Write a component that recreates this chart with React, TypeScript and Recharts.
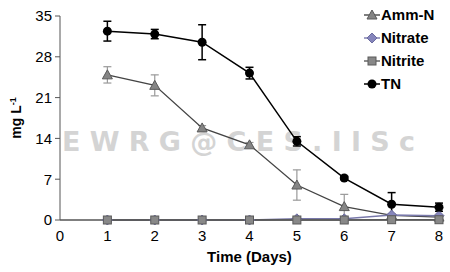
import { LineChart, Line, XAxis, YAxis, ErrorBar } from 'recharts';

const days = [1, 2, 3, 4, 5, 6, 7, 8];
const ammN = [24.9, 23.1, 15.8, 12.9, 6.0, 2.3, 0.8, 0.5];
const ammNErr = [1.4, 1.8, 0.4, 0.4, 2.6, 2.1, 0.3, 0.2];
const nitrate = [0, 0, 0, 0, 0.2, 0.2, 0.85, 0.75];
const nitrite = [0, 0, 0, 0, 0, 0, 0.05, 0.05];
const tn = [32.4, 31.9, 30.5, 25.2, 13.5, 7.2, 2.7, 2.2];
const tnErr = [1.7, 0.8, 3.0, 1.0, 0.8, 0.3, 2.0, 0.7];
const xTicks = [0, 1, 2, 3, 4, 5, 6, 7, 8];
const yTicks = [0, 7, 14, 21, 28, 35];

const data = days.map((d, i) => ({
  day: d,
  ammN: ammN[i],
  ammNErr: ammNErr[i],
  nitrate: nitrate[i],
  nitrite: nitrite[i],
  tn: tn[i],
  tnErr: tnErr[i],
}));

const FONT = '"Liberation Sans", Arial, sans-serif';

const Triangle = ({ cx, cy }: any) => (
  <polygon
    points={`${cx},${cy - 5} ${cx - 5},${cy + 4} ${cx + 5},${cy + 4}`}
    fill="#858585"
    stroke="#5a5a5a"
    strokeWidth={1}
  />
);
const Diamond = ({ cx, cy }: any) => (
  <polygon
    points={`${cx},${cy - 5} ${cx + 5},${cy} ${cx},${cy + 5} ${cx - 5},${cy}`}
    fill="#8585bb"
    stroke="#6c6ca0"
    strokeWidth={1}
  />
);
const Square = ({ cx, cy }: any) => (
  <rect x={cx - 4} y={cy - 4} width={8} height={8} fill="#888" stroke="#5a5a5a" strokeWidth={1} />
);
const Circle = ({ cx, cy }: any) => <circle cx={cx} cy={cy} r={4.5} fill="#000" />;

const legendItems = [
  { name: 'Amm-N', color: '#555', Marker: Triangle },
  { name: 'Nitrate', color: '#8080b0', Marker: Diamond },
  { name: 'Nitrite', color: '#666', Marker: Square },
  { name: 'TN', color: '#000', Marker: Circle },
];

const YLabel = () => (
  <text
    x={0}
    y={0}
    transform="translate(21,118) rotate(-90)"
    textAnchor="middle"
    fontFamily={FONT}
    fontWeight="bold"
    fontSize={14}
    fill="#000"
  >
    mg L
    <tspan fontSize={9} dy={-5}>-1</tspan>
  </text>
);

const App = () => {
  return (
    <div style={{ position: 'absolute', left: 0, top: 0, width: 450, height: 272, background: '#fff' }}>
      <svg width={450} height={272} style={{ position: 'absolute', left: 0, top: 0 }}>
        <text
          x={62}
          y={151}
          textLength={353}
          lengthAdjust="spacing"
          fontFamily='"DejaVu Sans", sans-serif'
          fontWeight="bold"
          fontSize={27}
          fill="#d4d4d4"
        >
          E W R G @ C E S . I I S c
        </text>
      </svg>
      <div style={{ position: 'absolute', left: 0, top: 0 }}>
        <LineChart width={450} height={272} data={data} margin={{ top: 16, right: 11, left: 30, bottom: 22 }}>
          <XAxis
            dataKey="day"
            type="number"
            domain={[0, 8]}
            ticks={xTicks}
            tickLine={false}
            axisLine={{ stroke: '#555', strokeWidth: 1.5 }}
            tick={{ fill: '#000', fontSize: 15, fontFamily: FONT }}
            tickMargin={4}
            height={30}
            label={{
              value: 'Time (Days)',
              position: 'insideBottom',
              offset: -12,
              fill: '#000',
              fontSize: 15,
              fontWeight: 'bold',
              fontFamily: FONT,
            }}
          />
          <YAxis
            type="number"
            domain={[0, 35]}
            ticks={yTicks}
            width={30}
            tickSize={5}
            tickLine={{ stroke: '#555' }}
            axisLine={{ stroke: '#555', strokeWidth: 1 }}
            tick={{ fill: '#000', fontSize: 15, fontFamily: FONT }}
            tickMargin={3}
            label={<YLabel />}
          />
          <Line
            dataKey="ammN"
            stroke="#444"
            strokeWidth={1.3}
            dot={(p: any) => <Triangle key={`a${p.index}`} cx={p.cx} cy={p.cy} />}
            isAnimationActive={false}
          >
            <ErrorBar dataKey="ammNErr" direction="y" width={4} stroke="#999" strokeWidth={1.2} />
          </Line>
          <Line
            dataKey="nitrate"
            stroke="#7878aa"
            strokeWidth={1.5}
            dot={(p: any) => <Diamond key={`n${p.index}`} cx={p.cx} cy={p.cy} />}
            isAnimationActive={false}
          />
          <Line
            dataKey="nitrite"
            stroke="#666"
            strokeWidth={1.5}
            dot={(p: any) => <Square key={`s${p.index}`} cx={p.cx} cy={p.cy} />}
            isAnimationActive={false}
          />
          <Line
            dataKey="tn"
            stroke="#000"
            strokeWidth={1.5}
            dot={(p: any) => <Circle key={`t${p.index}`} cx={p.cx} cy={p.cy} />}
            isAnimationActive={false}
          >
            <ErrorBar dataKey="tnErr" direction="y" width={4} stroke="#000" strokeWidth={1.5} />
          </Line>
        </LineChart>
      </div>
      <div style={{ position: 'absolute', left: 363, top: 3, fontFamily: FONT, fontWeight: 'bold', fontSize: 15 }}>
        {legendItems.map((it) => (
          <div key={it.name} style={{ display: 'flex', alignItems: 'center', height: 23 }}>
            <svg width={18} height={14}>
              <line x1={1} y1={7} x2={17} y2={7} stroke={it.color} strokeWidth={1.5} />
              <it.Marker cx={9} cy={7} />
            </svg>
            <span>{it.name}</span>
          </div>
        ))}
      </div>
    </div>
  );
};

export default App;
